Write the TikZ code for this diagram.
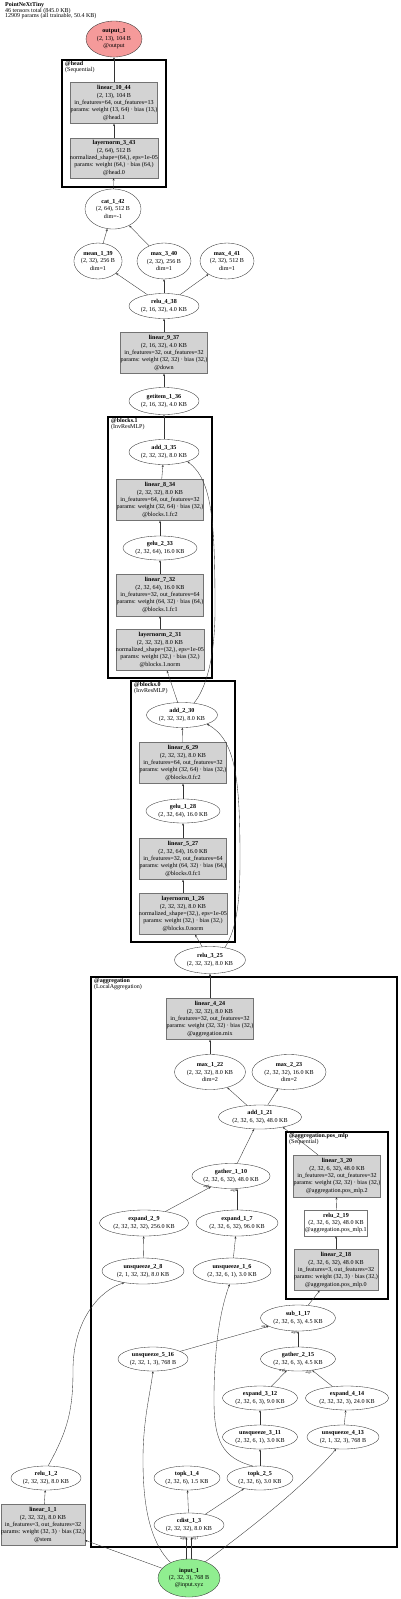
\documentclass[tikz,border=0pt]{standalone}
\usepackage{fontspec}
\setmainfont{Liberation Serif}
\usetikzlibrary{shapes.geometric,arrows.meta}
\definecolor{boxgray}{HTML}{D3D3D3}
\definecolor{outred}{HTML}{F59A9A}
\definecolor{ingreen}{HTML}{90EE90}
\tikzset{
  nbase/.style={font=\fontsize{6.1}{7.4}\selectfont, align=center, inner sep=0pt, line width=0.35pt},
  ell/.style 2 args={nbase, ellipse, draw=black!80, minimum width=#1, minimum height=#2},
  gbox/.style 2 args={nbase, rectangle, draw=black!55, fill=boxgray, minimum width=#1, minimum height=#2},
  wbox/.style 2 args={nbase, rectangle, draw=black!55, fill=white, minimum width=#1, minimum height=#2},
  cluster/.style={draw=black, line width=1.8pt},
  clab/.style={font=\fontsize{6}{6}\selectfont, align=left, anchor=north west, inner sep=0pt},
  hdr/.style={font=\fontsize{6}{5.7}\selectfont, align=left, anchor=north west, inner sep=0pt},
  conn/.style={draw=black!80, line width=0.35pt, -{Stealth[length=2.4pt,width=2pt]}},
  elab/.style={font=\fontsize{3.4}{3.6}\selectfont, inner sep=0.3pt}
}
\begin{document}
\begin{tikzpicture}[x=1pt,y=-1pt]
\useasboundingbox (0,0) rectangle (400,1599);
% header
\node[hdr] (title) at (5,2) {\textbf{PointNeXtTiny}\\46 tensors total (845.0 KB)\\12909 params (all trainable, 50.4 KB)};
% clusters
\draw[cluster] (62,60) rectangle (166,187);
\node[clab] (headlab) at (65,61.5) {\textbf{@head}\\(Sequential)};
\draw[cluster] (108,417) rectangle (212,678);
\node[clab] (b1lab) at (111,418.5) {\textbf{@blocks.1}\\(InvResMLP)};
\draw[cluster] (131,681) rectangle (235,942);
\node[clab] (b0lab) at (134,682.5) {\textbf{@blocks.0}\\(InvResMLP)};
\draw[cluster] (91,977) rectangle (397,1547);
\node[clab] (agglab) at (94,978.5) {\textbf{@aggregation}\\(LocalAggregation)};
\draw[cluster] (286,1132) rectangle (388,1299);
\node[clab] (poslab) at (289,1133.5) {\textbf{@aggregation.pos\_mlp}\\(Sequential)};
% nodes
\node[ell={56pt}{36pt}, fill=outred] (output_1) at (114,39) {\textbf{output\_1}\\(2, 13), 104 B\\@output};
\node[gbox={86pt}{41pt}] (linear_10_44) at (114,103) {\textbf{linear\_10\_44}\\(2, 13), 104 B\\in\_features=64, out\_features=13\\params: weight (13, 64) · bias (13,)\\@head.1};
\node[gbox={87pt}{40pt}] (layernorm_3_43) at (114,158) {\textbf{layernorm\_3\_43}\\(2, 64), 512 B\\normalized\_shape=(64,), eps=1e-05\\params: weight (64,) · bias (64,)\\@head.0};
\node[ell={56pt}{40pt}] (cat_1_42) at (113,209) {\textbf{cat\_1\_42}\\(2, 64), 512 B\\dim=-1};
\node[ell={45pt}{36pt}] (mean_1_39) at (98,261) {\textbf{mean\_1\_39}\\(2, 32), 256 B\\dim=1};
\node[ell={54pt}{36pt}] (max_3_40) at (164,261) {\textbf{max\_3\_40}\\(2, 32), 256 B\\dim=1};
\node[ell={54pt}{36pt}] (max_4_41) at (227,261) {\textbf{max\_4\_41}\\(2, 32), 512 B\\dim=1};
\node[ell={70pt}{25pt}] (relu_4_38) at (164,306) {\textbf{relu\_4\_38}\\(2, 16, 32), 4.0 KB};
\node[gbox={85pt}{41pt}] (linear_9_37) at (164,353) {\textbf{linear\_9\_37}\\(2, 16, 32), 4.0 KB\\in\_features=32, out\_features=32\\params: weight (32, 32) · bias (32,)\\@down};
\node[ell={70pt}{27pt}] (getitem_1_36) at (164,401) {\textbf{getitem\_1\_36}\\(2, 16, 32), 4.0 KB};
\node[ell={70pt}{25pt}] (add_3_35) at (164,452) {\textbf{add\_3\_35}\\(2, 32, 32), 8.0 KB};
\node[gbox={85pt}{41pt}] (linear_8_34) at (160,500) {\textbf{linear\_8\_34}\\(2, 32, 32), 8.0 KB\\in\_features=64, out\_features=32\\params: weight (32, 64) · bias (32,)\\@blocks.1.fc2};
\node[ell={74pt}{24pt}] (gelu_2_33) at (160,548) {\textbf{gelu\_2\_33}\\(2, 32, 64), 16.0 KB};
\node[gbox={86pt}{42pt}] (linear_7_32) at (160,595) {\textbf{linear\_7\_32}\\(2, 32, 64), 16.0 KB\\in\_features=32, out\_features=64\\params: weight (64, 32) · bias (64,)\\@blocks.1.fc1};
\node[gbox={88pt}{41pt}] (layernorm_2_31) at (160,650) {\textbf{layernorm\_2\_31}\\(2, 32, 32), 8.0 KB\\normalized\_shape=(32,), eps=1e-05\\params: weight (32,) · bias (32,)\\@blocks.1.norm};
\node[ell={71pt}{25pt}] (add_2_30) at (182,715) {\textbf{add\_2\_30}\\(2, 32, 32), 8.0 KB};
\node[gbox={85pt}{41pt}] (linear_6_29) at (183,763) {\textbf{linear\_6\_29}\\(2, 32, 32), 8.0 KB\\in\_features=64, out\_features=32\\params: weight (32, 64) · bias (32,)\\@blocks.0.fc2};
\node[ell={74pt}{24pt}] (gelu_1_28) at (183,811) {\textbf{gelu\_1\_28}\\(2, 32, 64), 16.0 KB};
\node[gbox={86pt}{41pt}] (linear_5_27) at (183,859) {\textbf{linear\_5\_27}\\(2, 32, 64), 16.0 KB\\in\_features=32, out\_features=64\\params: weight (64, 32) · bias (64,)\\@blocks.0.fc1};
\node[gbox={88pt}{41pt}] (layernorm_1_26) at (183,914) {\textbf{layernorm\_1\_26}\\(2, 32, 32), 8.0 KB\\normalized\_shape=(32,), eps=1e-05\\params: weight (32,) · bias (32,)\\@blocks.0.norm};
\node[ell={71pt}{27pt}] (relu_3_25) at (210,960) {\textbf{relu\_3\_25}\\(2, 32, 32), 8.0 KB};
\node[gbox={84pt}{41pt}] (linear_4_24) at (210,1019) {\textbf{linear\_4\_24}\\(2, 32, 32), 8.0 KB\\in\_features=32, out\_features=32\\params: weight (32, 32) · bias (32,)\\@aggregation.mix};
\node[ell={71pt}{35pt}] (max_1_22) at (210,1072) {\textbf{max\_1\_22}\\(2, 32, 32), 8.0 KB\\dim=2};
\node[ell={74pt}{35pt}] (max_2_23) at (289,1072) {\textbf{max\_2\_23}\\(2, 32, 32), 16.0 KB\\dim=2};
\node[ell={83pt}{24pt}] (add_1_21) at (260,1117) {\textbf{add\_1\_21}\\(2, 32, 6, 32), 48.0 KB};
\node[gbox={85pt}{42pt}] (linear_3_20) at (337,1176) {\textbf{linear\_3\_20}\\(2, 32, 6, 32), 48.0 KB\\in\_features=32, out\_features=32\\params: weight (32, 32) · bias (32,)\\@aggregation.pos\_mlp.2};
\node[wbox={63pt}{26pt}] (relu_2_19) at (336,1223) {\textbf{relu\_2\_19}\\(2, 32, 6, 32), 48.0 KB\\@aggregation.pos\_mlp.1};
\node[gbox={83pt}{41pt}] (linear_2_18) at (336,1270) {\textbf{linear\_2\_18}\\(2, 32, 6, 32), 48.0 KB\\in\_features=3, out\_features=32\\params: weight (32, 3) · bias (32,)\\@aggregation.pos\_mlp.0};
\node[ell={73pt}{25pt}] (gather_1_10) at (231,1176) {\textbf{gather\_1\_10}\\(2, 32, 6, 32), 48.0 KB};
\node[ell={89pt}{26pt}] (expand_2_9) at (144,1223) {\textbf{expand\_2\_9}\\(2, 32, 32, 32), 256.0 KB};
\node[ell={82pt}{26pt}] (expand_1_7) at (237,1223) {\textbf{expand\_1\_7}\\(2, 32, 6, 32), 96.0 KB};
\node[ell={82pt}{26pt}] (unsqueeze_2_8) at (143,1271) {\textbf{unsqueeze\_2\_8}\\(2, 1, 32, 32), 8.0 KB};
\node[ell={78pt}{26pt}] (unsqueeze_1_6) at (232,1271) {\textbf{unsqueeze\_1\_6}\\(2, 32, 6, 1), 3.0 KB};
\node[ell={75pt}{26pt}] (sub_1_17) at (298,1318) {\textbf{sub\_1\_17}\\(2, 32, 6, 3), 4.5 KB};
\node[ell={70pt}{24pt}] (unsqueeze_5_16) at (153,1359) {\textbf{unsqueeze\_5\_16}\\(2, 32, 1, 3), 768 B};
\node[ell={75pt}{24pt}] (gather_2_15) at (298,1359) {\textbf{gather\_2\_15}\\(2, 32, 6, 3), 4.5 KB};
\node[ell={75pt}{24pt}] (expand_3_12) at (260,1398) {\textbf{expand\_3\_12}\\(2, 32, 6, 3), 9.0 KB};
\node[ell={83pt}{24pt}] (expand_4_14) at (347,1398) {\textbf{expand\_4\_14}\\(2, 32, 32, 3), 24.0 KB};
\node[ell={75pt}{24pt}] (unsqueeze_3_11) at (260,1437) {\textbf{unsqueeze\_3\_11}\\(2, 32, 6, 1), 3.0 KB};
\node[ell={72pt}{24pt}] (unsqueeze_4_13) at (343,1437) {\textbf{unsqueeze\_4\_13}\\(2, 1, 32, 3), 768 B};
\node[ell={70pt}{24pt}] (relu_1_2) at (46,1478) {\textbf{relu\_1\_2}\\(2, 32, 32), 8.0 KB};
\node[ell={66pt}{24pt}] (topk_1_4) at (187,1478) {\textbf{topk\_1\_4}\\(2, 32, 6), 1.5 KB};
\node[ell={66pt}{24pt}] (topk_2_5) at (260,1478) {\textbf{topk\_2\_5}\\(2, 32, 6), 3.0 KB};
\node[gbox={82pt}{41pt}] (linear_1_1) at (43,1525) {\textbf{linear\_1\_1}\\(2, 32, 32), 8.0 KB\\in\_features=3, out\_features=32\\params: weight (32, 3) · bias (32,)\\@stem};
\node[ell={70pt}{24pt}] (cdist_1_3) at (189,1525) {\textbf{cdist\_1\_3}\\(2, 32, 32), 8.0 KB};
\node[ell={62pt}{38pt}, fill=ingreen] (input_1) at (189,1578) {\textbf{input\_1}\\(2, 32, 3), 768 B\\@input.xyz};
% edges
\draw[conn] (input_1) -- (linear_1_1);
\draw[conn] (linear_1_1) -- (relu_1_2);
\draw[conn] (relu_1_2.80) .. controls (68,1430) and (73,1410) .. (73,1370) .. controls (73,1320) and (100,1290) .. (unsqueeze_2_8.-148);
\draw[conn] ([xshift=-2.5pt]input_1.north) -- node[elab, pos=1, anchor=north east]{arg0} ([xshift=-2.5pt]cdist_1_3.south);
\draw[conn] ([xshift=2.5pt]input_1.north) -- node[elab, pos=1, anchor=north west]{arg1} ([xshift=2.5pt]cdist_1_3.south);
\draw[conn] (input_1.140) .. controls (148,1540) and (143,1500) .. (143,1460) .. controls (143,1420) and (150,1395) .. (unsqueeze_5_16.south);
\draw[conn] (input_1.45) .. controls (255,1525) and (305,1485) .. (unsqueeze_4_13.-120);
\draw[conn] (cdist_1_3) -- (topk_1_4);
\draw[conn] (cdist_1_3) -- (topk_2_5);
\draw[conn] (topk_2_5) -- (unsqueeze_3_11);
\draw[conn] (topk_2_5.120) .. controls (222,1458) and (214,1440) .. (214,1400) .. controls (214,1340) and (222,1305) .. (unsqueeze_1_6.-100);
\draw[conn] (unsqueeze_3_11) -- (expand_3_12);
\draw[conn] (unsqueeze_4_13) -- (expand_4_14);
\draw[conn] (expand_3_12) -- node[elab, pos=1, anchor=east, xshift=-1pt]{arg0} (gather_2_15);
\draw[conn] (expand_4_14) -- node[elab, pos=1, anchor=north east]{arg1} (gather_2_15);
\draw[conn] (gather_2_15) -- node[elab, pos=1, anchor=north east, xshift=-0.5pt]{arg0} (sub_1_17);
\draw[conn] (unsqueeze_5_16) -- node[elab, pos=1, anchor=east, xshift=-1pt]{arg1} (sub_1_17);
\draw[conn] (sub_1_17) -- (linear_2_18);
\draw[conn] (linear_2_18) -- (relu_2_19);
\draw[conn] (relu_2_19) -- (linear_3_20);
\draw[conn] ([xshift=-19pt]linear_3_20.north) -- (add_1_21.-24);
\draw[conn] (unsqueeze_1_6) -- (expand_1_7);
\draw[conn] (unsqueeze_2_8) -- (expand_2_9);
\draw[conn] (expand_2_9) -- node[elab, pos=1, anchor=east, xshift=-1pt]{arg0} (gather_1_10);
\draw[conn] (expand_1_7.north) -- node[elab, pos=1, anchor=north east]{arg1} (expand_1_7.north |- gather_1_10.south);
\draw[conn] (gather_1_10) -- (add_1_21);
\draw[conn] (add_1_21) -- (max_1_22);
\draw[conn] (add_1_21) -- (max_2_23);
\draw[conn] (max_1_22) -- (linear_4_24);
\draw[conn] (linear_4_24) -- (relu_3_25);
\draw[conn] (relu_3_25) -- (layernorm_1_26);
\draw[conn] (relu_3_25.40) .. controls (236,930) and (240,905) .. (240,860) .. controls (240,780) and (236,740) .. (add_2_30.-20);
\draw[conn] (layernorm_1_26) -- (linear_5_27);
\draw[conn] (linear_5_27) -- (gelu_1_28);
\draw[conn] (gelu_1_28) -- (linear_6_29);
\draw[conn] (linear_6_29) -- (add_2_30);
\draw[conn] (add_2_30) -- (layernorm_2_31);
\draw[conn] (add_2_30.45) .. controls (205,690) and (215,660) .. (215,610) .. controls (215,520) and (212,480) .. (add_3_35.-22);
\draw[conn] (layernorm_2_31) -- (linear_7_32);
\draw[conn] (linear_7_32) -- (gelu_2_33);
\draw[conn] (gelu_2_33) -- (linear_8_34);
\draw[conn] (linear_8_34) -- (add_3_35);
\draw[conn] (add_3_35) -- (getitem_1_36);
\draw[conn] (getitem_1_36) -- (linear_9_37);
\draw[conn] (linear_9_37) -- (relu_4_38);
\draw[conn] (relu_4_38) -- (mean_1_39);
\draw[conn] (relu_4_38) -- (max_3_40);
\draw[conn] (relu_4_38) -- (max_4_41);
\draw[conn] (mean_1_39) -- (cat_1_42);
\draw[conn] (max_3_40) -- (cat_1_42);
\draw[conn] (cat_1_42) -- (layernorm_3_43);
\draw[conn] (layernorm_3_43) -- (linear_10_44);
\draw[conn] (linear_10_44) -- (output_1);
\end{tikzpicture}
\end{document}
